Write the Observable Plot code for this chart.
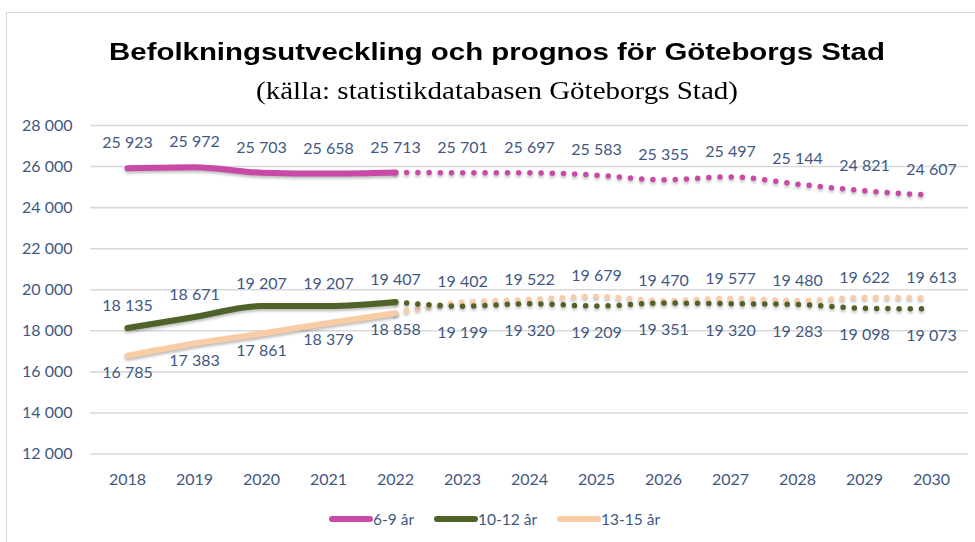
<!DOCTYPE html>
<html><head><meta charset="utf-8">
<script src="https://cdn.jsdelivr.net/npm/d3@7"></script>
<script src="https://cdn.jsdelivr.net/npm/@observablehq/plot@0.6"></script>
<style>
html,body{margin:0;padding:0;background:#fff;}
body{width:975px;height:542px;position:relative;overflow:hidden;}
#frame{position:absolute;left:6px;top:12px;width:1000px;height:600px;border:1.5px solid #d9d9d9;box-sizing:border-box;}
#title{position:absolute;left:0;width:994px;top:40px;text-align:center;font:bold 24.5px "Liberation Sans",Arial,sans-serif;line-height:24.5px;color:#000;white-space:nowrap;transform:scaleX(1.2);transform-origin:497px 50%;}
#subtitle{position:absolute;left:0;width:994px;top:78px;text-align:center;font:25px "Liberation Serif","Times New Roman",serif;line-height:25px;color:#000;white-space:nowrap;transform:scaleX(1.16);transform-origin:497px 50%;}
#chart{position:absolute;left:0;top:100px;}
#legend{position:absolute;left:329px;top:509px;height:20px;display:flex;align-items:center;font:15.5px Lato,sans-serif;color:#3F5882;}
#legend .item{display:flex;align-items:center;margin-right:20px;}
#legend .sw{width:44px;height:6px;border-radius:3px;}
.sh{filter:drop-shadow(0px 2.5px 1.5px rgba(0,0,0,0.28));}
</style>
</head><body>
<div id="frame"></div>
<div id="title">Befolkningsutveckling och prognos för Göteborgs Stad</div>
<div id="subtitle">(källa: statistikdatabasen Göteborgs Stad)</div>
<div id="chart"></div>
<div id="legend"></div>
<script>
const years = [2018, 2019, 2020, 2021, 2022, 2023, 2024, 2025, 2026, 2027, 2028, 2029, 2030];
const age6_9 = [25923, 25972, 25703, 25658, 25713, 25701, 25697, 25583, 25355, 25497, 25144, 24821, 24607];
const age10_12 = [18135, 18671, 19207, 19207, 19407, 19199, 19320, 19209, 19351, 19320, 19283, 19098, 19073];
const age13_15 = [16785, 17383, 17861, 18379, 18858, 19402, 19522, 19679, 19470, 19577, 19480, 19622, 19613];
const seriesNames = ["6-9 år", "10-12 år", "13-15 år"];
const seriesColors = ["#C94AA6", "#4F6228", "#F9CCA6"];
const yTicks = [12000, 14000, 16000, 18000, 20000, 22000, 24000, 26000, 28000];
const lastActualYear = 2022;

const sv = d3.formatLocale({decimal: ",", thousands: "\u00a0", grouping: [3], currency: ["", " kr"]});
const fmt = sv.format(",d");

const seriesValues = [age6_9, age10_12, age13_15];
const rows = [];
seriesNames.forEach((name, i) => {
  years.forEach((yr, j) => rows.push({series: name, year: yr, value: seriesValues[i][j], actual: yr <= lastActualYear, forecast: yr >= lastActualYear}));
});
const sel = (name, key) => rows.filter(d => d.series === name && d[key]);
const lab = (name, pred) => rows.filter(d => d.series === name && pred(d.year));

const textColor = "#3F5882";
const marks = [
  Plot.gridY(yTicks, {stroke: "#d9d9d9", strokeOpacity: 1, strokeWidth: 1.6}),
  Plot.axisY({ticks: yTicks, tickSize: 0, tickPadding: 18, tickFormat: fmt, label: null}),
  Plot.axisX({tickSize: 0, tickPadding: 20, label: null, tickFormat: d => String(d)})
];
// draw order: 13-15, 10-12, 6-9
[2, 1, 0].forEach(i => {
  const name = seriesNames[i], color = seriesColors[i];
  marks.push(Plot.line(sel(name, "forecast"), {x: "year", y: "value", stroke: color, strokeWidth: 5.5, strokeDasharray: "0 11.2", strokeLinecap: "round", curve: "monotone-x", className: "sh"}));
  marks.push(Plot.line(sel(name, "actual"), {x: "year", y: "value", stroke: color, strokeWidth: 6, strokeLinecap: "round", strokeLinejoin: "round", curve: "monotone-x", className: "sh"}));
});
const tOpt = (dy) => ({x: "year", y: "value", text: d => fmt(d.value), dy, fill: textColor, fontSize: 16});
marks.push(
  Plot.text(lab(seriesNames[0], () => true), tOpt(-25)),
  Plot.text(lab(seriesNames[1], y => y <= lastActualYear), tOpt(-22)),
  Plot.text(lab(seriesNames[1], y => y > lastActualYear), tOpt(27)),
  Plot.text(lab(seriesNames[2], y => y <= lastActualYear), tOpt(17)),
  Plot.text(lab(seriesNames[2], y => y > lastActualYear), tOpt(-20))
);

const chart = Plot.plot({
  width: 975,
  height: 400,
  marginLeft: 90,
  marginRight: 7,
  marginTop: 25,
  marginBottom: 46.5,
  style: {fontFamily: "Lato, sans-serif", fontSize: "16px", color: textColor, background: "transparent", overflow: "visible"},
  x: {type: "point", domain: years, padding: 0.5},
  y: {domain: [12000, 28000]},
  marks
});
document.getElementById("chart").append(chart);

const legend = document.getElementById("legend");
seriesNames.forEach((name, i) => {
  const item = document.createElement("div");
  item.className = "item";
  const sw = document.createElement("div");
  sw.className = "sw";
  sw.style.background = seriesColors[i];
  const t = document.createElement("span");
  t.textContent = name;
  item.append(sw, t);
  legend.append(item);
});
</script>
</body></html>
